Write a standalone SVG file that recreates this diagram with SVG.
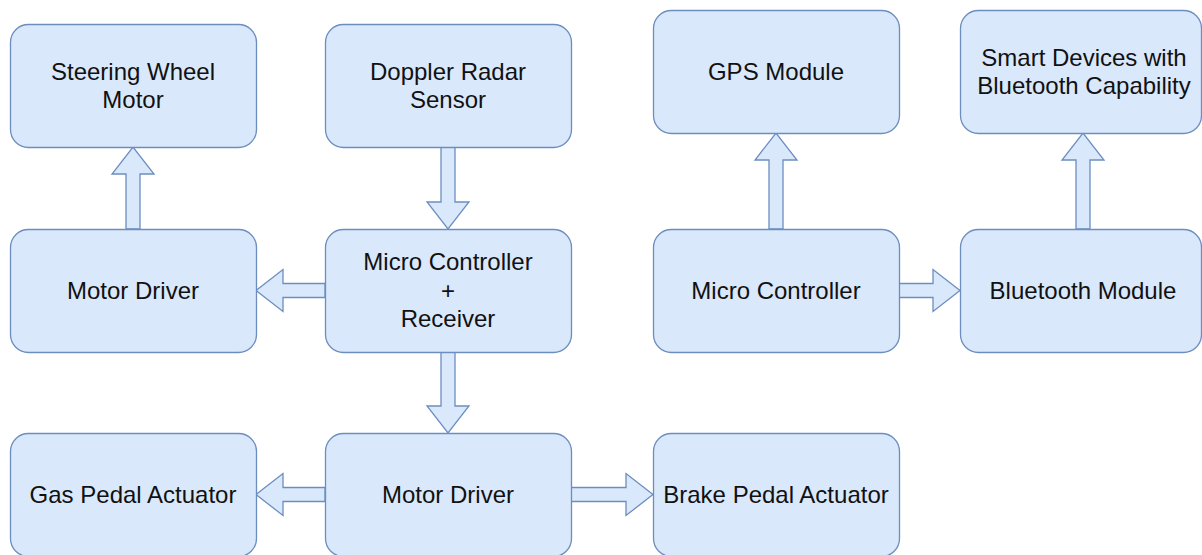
<svg xmlns="http://www.w3.org/2000/svg" width="1202" height="555" viewBox="0 0 1202 555">
<style>
.box{fill:#dae8fc;stroke:#6c8ebf;stroke-width:1.3}
.arr{fill:#dae8fc;stroke:#6c8ebf;stroke-width:1.3;stroke-linejoin:miter}
.t{font-family:"Liberation Sans",Arial,sans-serif;font-size:24px;fill:#111;text-anchor:middle;dominant-baseline:central}
</style>
<rect width="1202" height="555" fill="#ffffff"/>
<g id="connectors">
<polygon class="arr" points="126,229 126,174 112,174 133,147 154,174 140,174 140,229"/>
<polygon class="arr" points="441,147 441,202 427,202 448,229 469,202 455,202 455,147"/>
<polygon class="arr" points="325,283.5 283,283.5 283,269.5 256,290.5 283,311.5 283,297.5 325,297.5"/>
<polygon class="arr" points="441,352 441,406 427,406 448,433 469,406 455,406 455,352"/>
<polygon class="arr" points="325,487.5 283,487.5 283,473.5 256,494.5 283,515.5 283,501.5 325,501.5"/>
<polygon class="arr" points="571,487.5 626,487.5 626,473.5 653,494.5 626,515.5 626,501.5 571,501.5"/>
<polygon class="arr" points="769,229 769,160 755,160 776,133 797,160 783,160 783,229"/>
<polygon class="arr" points="899,283.5 933,283.5 933,269.5 960,290.5 933,311.5 933,297.5 899,297.5"/>
<polygon class="arr" points="1076,229 1076,160 1062,160 1083,133 1104,160 1090,160 1090,229"/>
</g>
<g id="steering">
<rect class="box" x="10.5" y="24.5" width="246" height="123" rx="18"/>
<text class="t" x="133" y="71.5">Steering Wheel</text>
<text class="t" x="133" y="99.5">Motor</text>
</g>
<g id="doppler">
<rect class="box" x="325.5" y="24.5" width="246" height="123" rx="18"/>
<text class="t" x="448" y="71.5">Doppler Radar</text>
<text class="t" x="448" y="99.5">Sensor</text>
</g>
<g id="gps">
<rect class="box" x="653.5" y="10.5" width="246" height="123" rx="18"/>
<text class="t" x="776" y="71.5">GPS Module</text>
</g>
<g id="smart">
<rect class="box" x="960.5" y="10.5" width="241" height="123" rx="18"/>
<text class="t" x="1084" y="57.5">Smart Devices with</text>
<text class="t" x="1084" y="85.5">Bluetooth Capability</text>
</g>
<g id="motordriver1">
<rect class="box" x="10.5" y="229.5" width="246" height="123" rx="18"/>
<text class="t" x="133" y="290.5">Motor Driver</text>
</g>
<g id="mcreceiver">
<rect class="box" x="325.5" y="229.5" width="246" height="123" rx="18"/>
<text class="t" x="448" y="261.5">Micro Controller</text>
<text class="t" x="448" y="290">+</text>
<text class="t" x="448" y="318.5">Receiver</text>
</g>
<g id="mc2">
<rect class="box" x="653.5" y="229.5" width="246" height="123" rx="18"/>
<text class="t" x="776" y="290.5">Micro Controller</text>
</g>
<g id="bluetooth">
<rect class="box" x="960.5" y="229.5" width="241" height="123" rx="18"/>
<text class="t" x="1083" y="290.5">Bluetooth Module</text>
</g>
<g id="gas">
<rect class="box" x="10.5" y="433.5" width="246" height="123" rx="18"/>
<text class="t" x="133" y="494.5">Gas Pedal Actuator</text>
</g>
<g id="motordriver2">
<rect class="box" x="325.5" y="433.5" width="246" height="123" rx="18"/>
<text class="t" x="448" y="494.5">Motor Driver</text>
</g>
<g id="brake">
<rect class="box" x="653.5" y="433.5" width="246" height="123" rx="18"/>
<text class="t" x="776" y="494.5">Brake Pedal Actuator</text>
</g>
</svg>
